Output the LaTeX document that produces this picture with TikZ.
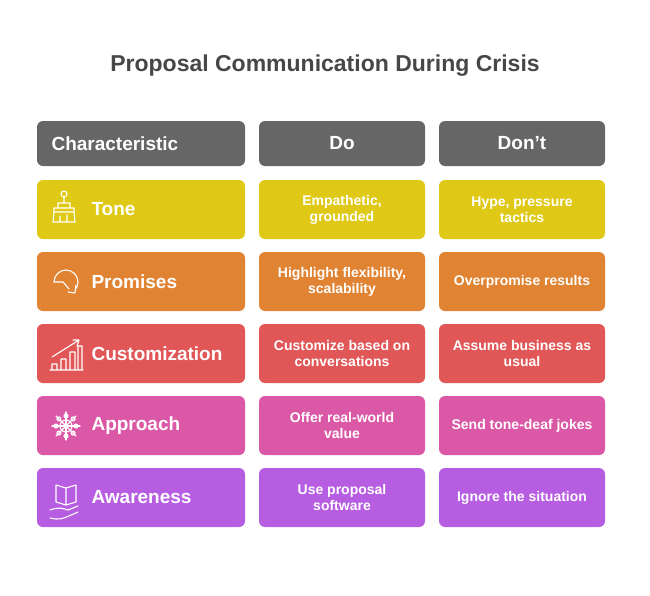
\documentclass[tikz,border=0pt]{standalone}
\usepackage{fontspec}
\setmainfont{Liberation Sans}
\usetikzlibrary{calc}
\definecolor{hdr}{HTML}{666666}
\definecolor{cy}{HTML}{DFC916}
\definecolor{co}{HTML}{E08332}
\definecolor{cr}{HTML}{E15656}
\definecolor{cp}{HTML}{DB58A7}
\definecolor{cv}{HTML}{B65DE1}
\begin{document}
\begin{tikzpicture}[x=1pt,y=-1pt,
 cell/.style={text=white,align=center,font=\fontsize{14}{16}\selectfont\bfseries},
 hd/.style={font=\fontsize{19}{22}\selectfont\bfseries,text=white},
 lab/.style={font=\fontsize{19}{22}\selectfont\bfseries,text=white,anchor=west},
 ic/.style={draw=white,line width=1.1pt,line cap=round,line join=round},
 box/.style={rounded corners=6pt}]
\useasboundingbox (0,0) rectangle (650,595);
\node[font=\fontsize{23}{26}\selectfont\bfseries,text=black!72] (title) at (325,66) {Proposal Communication During Crisis};
\fill[hdr,box] (37,121) rectangle (245,166);
\fill[hdr,box] (259,121) rectangle (425,166);
\fill[hdr,box] (439,121) rectangle (605,166);
\node[hd,anchor=west] (h1) at (48,143.5) {Characteristic};
\node[hd] (h2) at (342,143.5) {Do};
\node[hd] (h3) at (522,143.5) {Don't};
\foreach \y/\c/\n/\a/\b [count=\i] in {
 180/cy/Tone/{Empathetic,\\grounded}/{Hype, pressure\\tactics},
 252/co/Promises/{Highlight flexibility,\\scalability}/{Overpromise results},
 324/cr/Customization/{Customize based on\\conversations}/{Assume business as\\usual},
 396/cp/Approach/{Offer real-world\\value}/{Send tone-deaf jokes},
 468/cv/Awareness/{Use proposal\\software}/{Ignore the situation}}{
 \fill[\c,box] (37,\y) rectangle (245,\y+59);
 \fill[\c,box] (259,\y) rectangle (425,\y+59);
 \fill[\c,box] (439,\y) rectangle (605,\y+59);
 \node[lab] (l\i) at (88,\y+29.5) {\n};
 \node[cell] (d\i) at (342,\y+29.5) {\a};
 \node[cell] (n\i) at (522,\y+29.5) {\b};
}
% brush icon
\draw[ic] (64,194) circle (3) (64,197) -- (64,203) (58,203) rectangle (70,208)
 (54,208) rectangle (74,212) (54,212) -- (53,222) -- (75,222) -- (74,212) (60,216)--(60,222) (67,215)--(67,222);
% rotate icon
\draw[ic] (66,282) ++(180:12) arc[start angle=180,end angle=400,radius=12];
\draw[ic] (54,282) -- (63,282) -- (69,289);
\draw[ic] (76,285) -- (75,293) -- (68,292);
% chart icon
\draw[ic] (50,370) -- (83,370) (52,370) rectangle (57,364) (61,370) rectangle (66,359) (70,370) rectangle (75,352) (78,370) rectangle (82,346)
 (52,357) -- (79,340) (73,340) -- (79,340) -- (77,346);
% star icon
\foreach \r in {0,45,...,315}{\draw[ic] (66,426) -- ++(\r:14) ; \draw[ic] ($(66,426)+(\r:10)$) circle (2);}
\draw[ic] (66,426) circle (6);
% book icon
\draw[ic] (56,485) -- (56,502) -- (66,505) -- (76,502) -- (76,485) -- (66,488) -- cycle (66,488) -- (66,505)
 (50,510) .. controls (58,507) and (62,508) .. (68,510) -- (78,506) (50,518) .. controls (60,520) .. (78,512);
\end{tikzpicture}
\end{document}
